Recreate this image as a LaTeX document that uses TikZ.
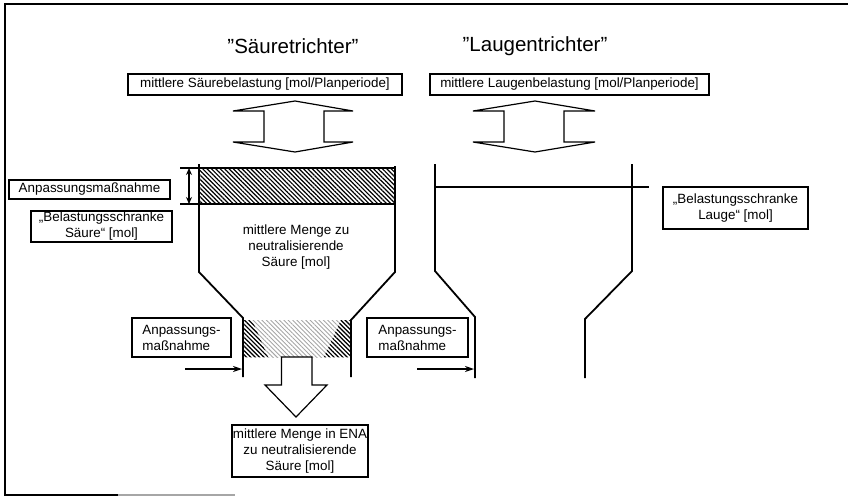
\documentclass[tikz,border=0pt]{standalone}
\usepackage{fontspec}
\setmainfont{Liberation Sans}
\usetikzlibrary{patterns.meta,arrows.meta}
\newcommand{\dq}{\symbol{34}}
\begin{document}
\begin{tikzpicture}[x=1pt,y=-1pt,
  lbl/.style={font=\fontsize{13.4}{16}\selectfont, align=center, inner sep=0pt},
  box/.style={draw, line width=1.2pt, font=\fontsize{13.4}{16}\selectfont, align=center, inner sep=0pt},
  lbox/.style={box, align=left},
  heading/.style={font=\fontsize{20.5}{24}\selectfont, inner sep=0pt},
  wall/.style={line width=1.8pt},
  hollow/.style={line width=1.2pt, fill=white, line join=miter},
  thinline/.style={line width=1.3pt},
  pointer/.style={line width=1.2pt, -{Stealth[length=9pt,width=6pt]}},
  dim/.style={line width=1.2pt, {Stealth[length=7pt,width=6pt]}-{Stealth[length=7pt,width=6pt]}},
  darkhatch/.style={pattern={Lines[angle=-45,distance=3.1pt,line width=1.2pt]}},
  lighthatch/.style={pattern={Lines[angle=-45,distance=3.1pt,line width=0.9pt]}, pattern color=black!35},
]
\useasboundingbox (0,0) rectangle (848,501);

% outer frame (open on the right)
\draw[line width=1.2pt] (848,4) -- (5,4) -- (5,495) -- (118,495);
\draw[line width=1.2pt, black!35] (118,495) -- (235,495);

% headings
\node[heading] (tS) at (293,46) {\dq Säuretrichter\dq};
\node[heading] (tL) at (535,46) {\dq Laugentrichter\dq};

% input loads
\node[box, minimum width=274pt, minimum height=21pt] (sbel) at (265,84.5) {mittlere Säurebelastung [mol/Planperiode]};
\node[box, minimum width=279pt, minimum height=21pt] (lbel) at (569.5,84.5) {mittlere Laugenbelastung [mol/Planperiode]};

% hollow double arrows
\draw[hollow] (295,101) -- (353,111) -- (324,111) -- (324,142) -- (353,142) -- (295,152)
  -- (233,142) -- (264,142) -- (264,111) -- (233,111) -- cycle;
\draw[hollow] (535,101) -- (595,111) -- (564,111) -- (564,142) -- (595,142) -- (535,152)
  -- (473,142) -- (504,142) -- (504,111) -- (473,111) -- cycle;

% acid funnel: hatched adjustment layer
\fill[darkhatch] (199,168) rectangle (395,204);
\draw[thinline] (180,168) -- (395,168);
\draw[thinline] (180,204) -- (395,204);
\coordinate (dimT) at (189,168);
\coordinate (dimB) at (189,204);
\draw[dim] (dimT) -- (dimB);

% acid funnel: outlet layer
\fill[lighthatch] (243,320) rectangle (351,357);
\fill[darkhatch] (243,320) -- (252,320) -- (268,357) -- (243,357) -- cycle;
\fill[darkhatch] (351,320) -- (341,320) -- (324,357) -- (351,357) -- cycle;

% acid funnel walls
\draw[wall] (199,164) -- (199,272) -- (243,318) -- (243,377);
\draw[wall] (395,166) -- (395,272) -- (351,320) -- (351,377);

% alkali funnel walls and load limit
\draw[wall] (435,164) -- (435,271) -- (475,317) -- (475,378);
\draw[wall] (632,164) -- (632,271) -- (585,319) -- (585,378);
\draw[thinline] (435,187) -- (649,187);

% outlet arrow
\draw[hollow] (281.5,357) -- (281.5,385) -- (265,385) -- (296,417) -- (327,385) -- (312,385) -- (312,357) -- cycle;

% labels
\node[box, minimum width=161pt, minimum height=19pt] (anpTop) at (89.5,189.5) {Anpassungsmaßnahme};
\node[box, minimum width=141pt, minimum height=31pt] (grenzS) at (101.5,226.5) {„Belastungsschranke\\Säure“ [mol]};
\node[box, minimum width=145pt, minimum height=42pt] (grenzL) at (735.5,208) {„Belastungsschranke\\Lauge“ [mol]};
\node[lbl] (menge) at (296,247) {mittlere Menge zu\\neutralisierende\\Säure [mol]};
\node[lbox, minimum width=99pt, minimum height=39pt] (anpS) at (181.5,337.5) {Anpassungs-\\maßnahme};
\node[lbox, minimum width=101pt, minimum height=39pt] (anpL) at (417.5,337.5) {Anpassungs-\\maßnahme};
\node[box, minimum width=136pt, minimum height=52pt] (ena) at (300,451) {mittlere Menge in ENA\\zu neutralisierende\\Säure [mol]};

% adjustment pointers onto the outlet walls
\coordinate (fromS) at (185,369);
\coordinate (wallS) at (242,369);
\coordinate (fromL) at (417,369);
\coordinate (wallL) at (474,369);
\draw[pointer] (fromS) -- (wallS);
\draw[pointer] (fromL) -- (wallL);
\end{tikzpicture}
\end{document}
